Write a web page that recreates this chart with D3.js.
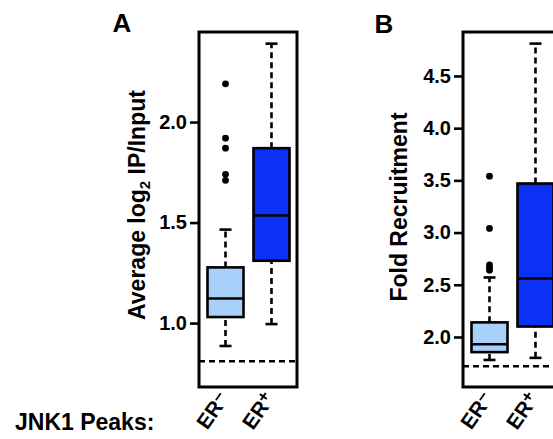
<!DOCTYPE html>
<html>
<head>
<meta charset="utf-8">
<script src="https://cdn.jsdelivr.net/npm/d3@7"></script>
<style>
  body { margin: 0; background: #fff; }
  svg { display: block; font-family: "Liberation Sans", Arial, sans-serif; font-weight: bold; }
</style>
</head>
<body>
<svg id="chart" width="553" height="439"></svg>
<script>
// groups on the x axis
var groups = ["ER–", "ER+"];
var groupColors = ["#a8d0fb", "#0b31f4"];

// panel A: average log2 IP/Input  [lowWhisker, q1, median, q3, highWhisker]
var statsA = [
    [0.886, 1.03, 1.122, 1.277, 1.465],
    [0.995, 1.31, 1.535, 1.87, 2.39]
];
var outliersA = [
    [1.71, 1.74, 1.87, 1.92, 2.19],
    []
];
var ticksA = [1.0, 1.5, 2.0];
var baselineA = 0.81;
var limitsA = [0.682, 2.448];

// panel B: fold recruitment
var statsB = [
    [1.78, 1.855, 1.93, 2.14, 2.57],
    [1.80, 2.10, 2.56, 3.47, 4.81]
];
var outliersB = [
    [2.64, 2.665, 2.69, 3.04, 3.54],
    []
];
var ticksB = [2.0, 2.5, 3.0, 3.5, 4.0, 4.5];
var baselineB = 1.72;
var limitsB = [1.521, 4.921];

var svg = d3.select("#chart");
var top_ = 32, bottom = 387, frameW = 98;
var boxW = 36, capW = 12;
var lw = 2.6;

function drawPanel(left, stats, outliers, ticks, baseline, limits, letter, letterX, letterY) {
    var y = d3.scaleLinear().domain(limits).range([bottom, top_]);
    var x = d3.scalePoint().domain(groups).range([left + 26.5, left + 72.5]);
    var g = svg.append("g");

    // axis ticks
    var axis = d3.axisLeft(y)
        .tickValues(ticks)
        .tickFormat(d3.format(".1f"))
        .tickSize(9)
        .tickPadding(3);
    var ax = g.append("g")
        .attr("transform", "translate(" + left + ",0)")
        .call(axis);
    ax.attr("font-family", null).attr("font-size", null);
    ax.select(".domain").remove();
    ax.selectAll(".tick line").attr("stroke", "#000").attr("stroke-width", lw);
    ax.selectAll(".tick text")
        .attr("fill", "#000")
        .style("font-size", "20px");

    // dashed reference line
    g.append("line")
        .attr("x1", left).attr("x2", left + frameW)
        .attr("y1", y(baseline)).attr("y2", y(baseline))
        .attr("stroke", "#000").attr("stroke-width", lw)
        .attr("stroke-dasharray", "6,4");

    groups.forEach(function (grp, i) {
        var s = stats[i];
        var cx = x(grp);
        // whiskers
        g.append("line")
            .attr("x1", cx).attr("x2", cx)
            .attr("y1", y(s[0])).attr("y2", y(s[1]))
            .attr("stroke", "#000").attr("stroke-width", lw)
            .attr("stroke-dasharray", "6,4");
        g.append("line")
            .attr("x1", cx).attr("x2", cx)
            .attr("y1", y(s[3])).attr("y2", y(s[4]))
            .attr("stroke", "#000").attr("stroke-width", lw)
            .attr("stroke-dasharray", "6,4");
        [s[0], s[4]].forEach(function (v) {
            g.append("line")
                .attr("x1", cx - capW / 2).attr("x2", cx + capW / 2)
                .attr("y1", y(v)).attr("y2", y(v))
                .attr("stroke", "#000").attr("stroke-width", lw);
        });
        // box
        g.append("rect")
            .attr("x", cx - boxW / 2)
            .attr("y", y(s[3]))
            .attr("width", boxW)
            .attr("height", y(s[1]) - y(s[3]))
            .attr("fill", groupColors[i])
            .attr("stroke", "#000").attr("stroke-width", lw);
        g.append("line")
            .attr("x1", cx - boxW / 2).attr("x2", cx + boxW / 2)
            .attr("y1", y(s[2])).attr("y2", y(s[2]))
            .attr("stroke", "#000").attr("stroke-width", lw);
        // outliers
        g.selectAll(null)
            .data(outliers[i])
            .enter()
            .append("circle")
            .attr("cx", cx)
            .attr("cy", function (d) { return y(d); })
            .attr("r", 3.4)
            .attr("fill", "#000");

        // rotated group label
        var lab = g.append("text")
            .attr("transform", "translate(" + (cx + 4) + ",399) rotate(-55)")
            .attr("text-anchor", "end")
            .style("font-size", "21px");
        lab.append("tspan").text(grp.slice(0, 2));
        lab.append("tspan")
            .attr("dy", -6)
            .style("font-size", "17px")
            .text(grp.slice(2));
    });

    // frame
    g.append("rect")
        .attr("x", left).attr("y", top_)
        .attr("width", frameW).attr("height", bottom - top_)
        .attr("fill", "none")
        .attr("stroke", "#000").attr("stroke-width", 3);

    // panel letter
    g.append("text")
        .attr("x", letterX).attr("y", letterY)
        .attr("text-anchor", "middle")
        .style("font-size", "26px")
        .text(letter);

    return g;
}

drawPanel(199, statsA, outliersA, ticksA, baselineA, limitsA, "A", 122, 32);
drawPanel(463, statsB, outliersB, ticksB, baselineB, limitsB, "B", 384, 33);

// y titles
var tA = svg.append("text")
    .attr("transform", "translate(145,205) rotate(-90)")
    .attr("text-anchor", "middle")
    .style("font-size", "23px");
tA.append("tspan").text("Average log");
tA.append("tspan").attr("dy", 5).style("font-size", "15px").text("2");
tA.append("tspan").attr("dy", -5).text(" IP/Input");

svg.append("text")
    .attr("transform", "translate(407,207) rotate(-90)")
    .attr("text-anchor", "middle")
    .style("font-size", "23px")
    .text("Fold Recruitment");

svg.append("text")
    .attr("x", 15).attr("y", 430)
    .style("font-size", "23px")
    .text("JNK1 Peaks:");
</script>
</body>
</html>
